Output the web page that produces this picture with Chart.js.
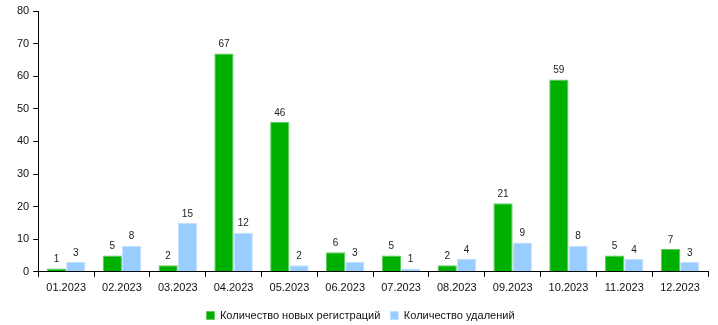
<!DOCTYPE html>
<html>
<head>
<meta charset="utf-8">
<script src="https://cdn.jsdelivr.net/npm/chart.js@4"></script>
<style>
  body { margin: 0; background: #fff; }
  #myChart { display: block; }
</style>
</head>
<body>
<canvas id="myChart" width="718" height="325"></canvas>
<script>
const months = ['01.2023', '02.2023', '03.2023', '04.2023', '05.2023', '06.2023',
                '07.2023', '08.2023', '09.2023', '10.2023', '11.2023', '12.2023'];
const newRegs = [1, 5, 2, 67, 46, 6, 5, 2, 21, 59, 5, 7];
const removals = [3, 8, 15, 12, 2, 3, 1, 4, 9, 8, 4, 3];

// values above bars
const valueLabels = {
    id: 'valueLabels',
    afterDatasetsDraw(chart) {
        const ctx = chart.ctx;
        ctx.save();
        ctx.font = '10px "Liberation Sans", Arial, sans-serif';
        ctx.fillStyle = '#222';
        ctx.textAlign = 'center';
        ctx.textBaseline = 'bottom';
        chart.data.datasets.forEach((ds, i) => {
            chart.getDatasetMeta(i).data.forEach((bar, j) => {
                ctx.fillText(ds.data[j], bar.x, bar.y - 4);
            });
        });
        ctx.restore();
    }
};

Chart.defaults.font.family = '"Liberation Sans", Arial, sans-serif';
Chart.defaults.font.size = 12;
Chart.defaults.color = '#111';

const chart = document.getElementById('myChart');
const myChart = new Chart(chart, {
    type: 'bar',
    data: {
        labels: months,
        datasets: [{
            label: 'Количество новых регистраций',
            data: newRegs,
            backgroundColor: '#00b000',
            borderColor: '#5ccc5c',
            borderWidth: 1
        }, {
            label: 'Количество удалений',
            data: removals,
            backgroundColor: '#99ccff',
            borderColor: '#c4e0ff',
            borderWidth: 1
        }]
    },
    options: {
        responsive: false,
        animation: false,
        layout: { padding: { top: 11, right: 10, left: 13, bottom: -6 } },
        datasets: {
            bar: { categoryPercentage: 0.69, barPercentage: 1.0 }
        },
        plugins: {
            tooltip: { enabled: false },
            legend: {
                position: 'bottom',
                labels: {
                    boxWidth: 8,
                    boxHeight: 8,
                    padding: 10,
                    font: { size: 11 }
                }
            }
        },
        scales: {
            x: {
                grid: {
                    offset: true,
                    drawOnChartArea: false,
                    drawTicks: true,
                    tickLength: 5,
                    color: '#000'
                },
                border: { display: true, color: '#000', width: 1 },
                ticks: { padding: 5, font: { size: 11 } }
            },
            y: {
                min: 0,
                max: 80,
                grid: {
                    drawOnChartArea: false,
                    drawTicks: true,
                    tickLength: 5,
                    color: '#000'
                },
                border: { display: true, color: '#000', width: 1 },
                ticks: { stepSize: 10, padding: 4, font: { size: 11 } }
            }
        }
    },
    plugins: [valueLabels]
});
</script>
</body>
</html>
